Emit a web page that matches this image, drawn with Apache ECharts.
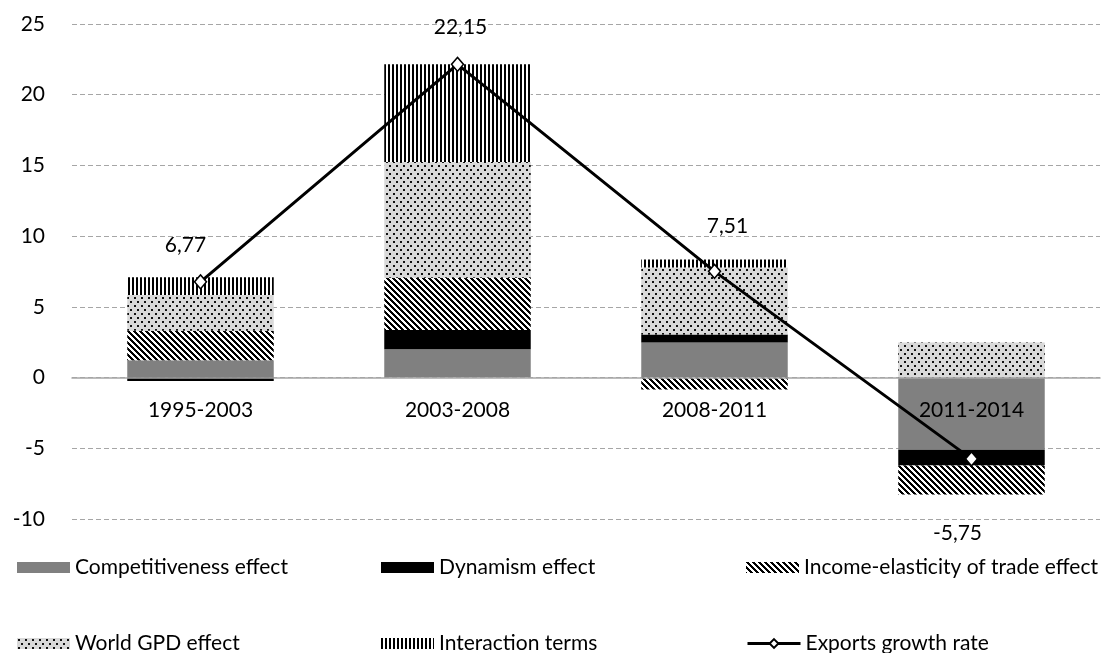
<!DOCTYPE html>
<html>
<head>
<meta charset="utf-8">
<script src="https://cdn.jsdelivr.net/npm/echarts@6/dist/echarts.min.js"></script>
<style>
  html, body { margin: 0; padding: 0; background: #fff; }
  #chart { width: 1102px; height: 653px; }
</style>
</head>
<body>
<div id="chart"></div>
<script>
// Decomposition of export growth by period (percentage points)
const periods = ['1995-2003', '2003-2008', '2008-2011', '2011-2014'];
const competitiveness = [1.23, 2.01, 2.48, -5.10];
const dynamism = [-0.24, 1.35, 0.57, -1.11];
const incomeElasticity = [2.08, 3.69, -0.85, -2.06];
const worldGdp = [2.53, 8.20, 4.73, 2.48];
const interaction = [1.26, 6.91, 0.57, 0];
const exportsGrowth = [6.77, 22.15, 7.51, -5.75];
const yTicks = { min: -10, max: 25, step: 5 };

// Label offsets for the growth-rate values, relative to each point
const growthLabelOffsets = [[-15, -37], [3, -37], [13, -45], [-14, 74]];

const FONT = 'Lato, "Open Sans", sans-serif';
const FONT_SIZE = 21;

// Tiled fill patterns drawn on small canvases
function makeTile(w, h, draw) {
  const c = document.createElement('canvas');
  c.width = w; c.height = h;
  const ctx = c.getContext('2d');
  draw(ctx, w, h);
  return { image: c, repeat: 'repeat' };
}

// Wide downward diagonal stripes
const diagonalFill = makeTile(6, 6, (ctx, w, h) => {
  ctx.fillStyle = '#fff';
  ctx.fillRect(0, 0, w, h);
  ctx.fillStyle = '#000';
  for (let y = 0; y < h; y++) {
    for (let x = 0; x < w; x++) {
      if (((x - y) % w + w) % w < 3) ctx.fillRect(x, y, 1, 1);
    }
  }
});

// Light grey with staggered dots
const dottedFill = makeTile(7, 8, (ctx, w, h) => {
  ctx.fillStyle = '#d9d9d9';
  ctx.fillRect(0, 0, w, h);
  ctx.fillStyle = '#111';
  ctx.fillRect(1, 1, 2, 2);
  ctx.fillRect(4, 5, 2, 2);
});

// Narrow vertical stripes
const verticalFill = makeTile(4, 4, (ctx, w, h) => {
  ctx.fillStyle = '#fff';
  ctx.fillRect(0, 0, w, h);
  ctx.fillStyle = '#000';
  ctx.fillRect(0, 0, 2, h);
});

const barSeries = [
  { name: 'Competitiveness effect', data: competitiveness, color: '#808080' },
  { name: 'Dynamism effect', data: dynamism, color: '#000000' },
  { name: 'Income-elasticity of trade effect', data: incomeElasticity, color: diagonalFill },
  { name: 'World GPD effect', data: worldGdp, color: dottedFill },
  { name: 'Interaction terms', data: interaction, color: verticalFill }
].map(s => ({
  name: s.name,
  type: 'bar',
  stack: 'total',
  barWidth: '57%',
  z: 2,
  itemStyle: { color: s.color },
  emphasis: { disabled: true },
  data: s.data
}));

const lineSeries = {
  name: 'Exports growth rate',
  type: 'line',
  z: 6,
  symbol: 'diamond',
  symbolSize: [12, 14],
  lineStyle: { color: '#000', width: 3 },
  itemStyle: { color: '#fff', borderColor: '#000', borderWidth: 1.5 },
  emphasis: { disabled: true },
  data: exportsGrowth.map((v, i) => ({
    value: v,
    label: { offset: growthLabelOffsets[i] }
  })),
  label: {
    show: true,
    position: 'inside',
    fontFamily: FONT,
    fontSize: FONT_SIZE,
    color: '#000',
    formatter: p => String(p.value).replace('.', ',')
  }
};

// Legend: three columns, two rows
const legendCols = [17, 381, 746];
const legendRows = [557, 633];
const legendNames = [
  'Competitiveness effect', 'Dynamism effect', 'Income-elasticity of trade effect',
  'World GPD effect', 'Interaction terms', 'Exports growth rate'
];
const legends = legendNames.map((name, i) => ({
  data: [name],
  left: legendCols[i % 3],
  top: legendRows[Math.floor(i / 3)],
  padding: 0,
  itemWidth: 53,
  itemHeight: 11,
  icon: name === 'Exports growth rate' ? undefined : 'rect',
  selectedMode: false,
  lineStyle: { width: 3, color: '#000' },
  textStyle: { fontFamily: FONT, fontSize: FONT_SIZE, color: '#000', lineHeight: 20 }
}));

const GRID = { left: 72, right: 2, top: 24, bottom: 134 };
const CHART_H = 653;

const chart = echarts.init(document.getElementById('chart'), null, { renderer: 'canvas' });
chart.setOption({
  animation: false,
  backgroundColor: '#fff',
  grid: GRID,
  legend: legends,
  xAxis: {
    type: 'category',
    data: periods,
    z: 4,
    axisLine: { onZero: false, lineStyle: { color: '#a6a6a6', width: 1.5 } },
    axisTick: { show: false },
    axisLabel: { fontFamily: FONT, fontSize: FONT_SIZE, color: '#000', margin: 22 }
  },
  yAxis: {
    type: 'value',
    min: yTicks.min,
    max: yTicks.max,
    interval: yTicks.step,
    axisLine: { show: false },
    axisTick: { show: false },
    axisLabel: { fontFamily: FONT, fontSize: FONT_SIZE, color: '#000', margin: 27 },
    splitLine: { lineStyle: { color: '#a6a6a6', type: [5, 3], width: 1 } }
  },
  series: [...barSeries, lineSeries]
});

// Lift the category axis (line and labels) up to the zero value
const zeroY = chart.convertToPixel({ yAxisIndex: 0 }, 0);
const plotBottom = CHART_H - GRID.bottom;
chart.setOption({ xAxis: { offset: -(plotBottom - zeroY) } });
</script>
</body>
</html>
